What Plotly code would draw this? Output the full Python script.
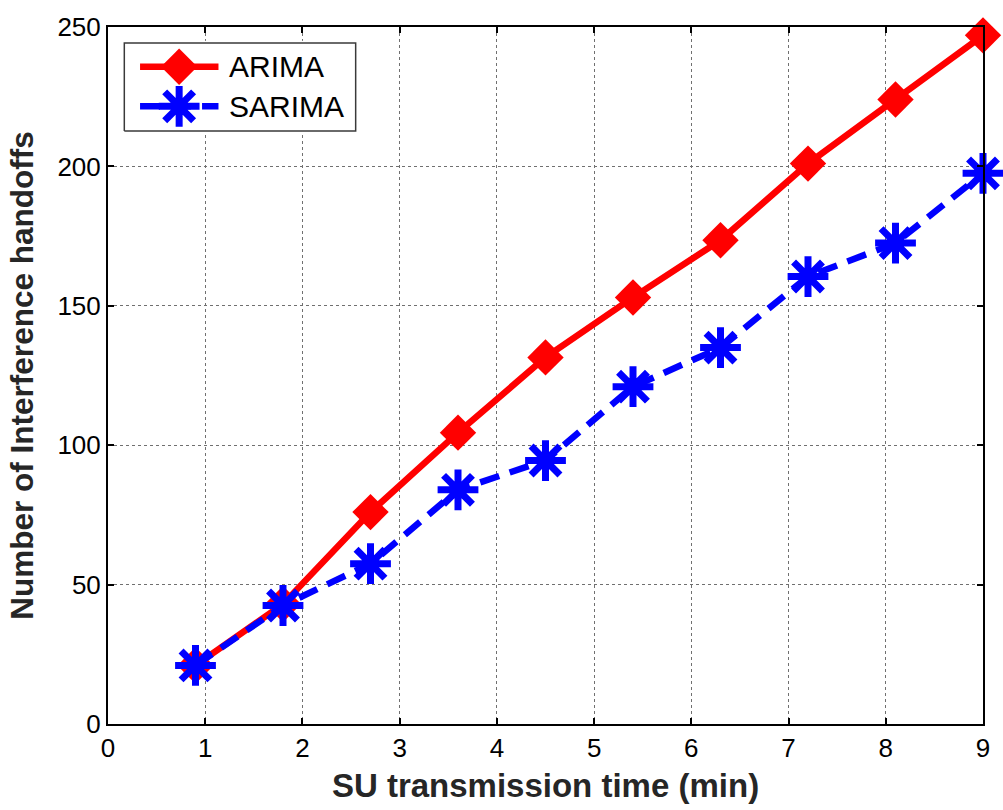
import plotly.graph_objects as go

# SU transmission time (min) and interference handoff counts
time_min = [0.9, 1.8, 2.7, 3.6, 4.5, 5.4, 6.3, 7.2, 8.1, 9.0]
arima = [21, 43, 76, 104.5, 131.5, 153, 173.5, 201, 224, 247]
sarima = [21, 42.5, 57.5, 84, 94.5, 121, 135, 160.5, 172.5, 197.5]

x_ticks = list(range(0, 10))
y_ticks = [0, 50, 100, 150, 200, 250]

series_names = ["ARIMA", "SARIMA"]
RED = "#ff0000"
BLUE = "#0000ff"
FONT = "Liberation Sans, Arial, sans-serif"

LINE_W = 6.5
DIAMOND = dict(symbol="diamond", size=28, color=RED, opacity=1,
               line=dict(width=0))
STAR = dict(symbol="asterisk-open", size=34, color=BLUE, opacity=1,
            line=dict(color=BLUE, width=7))
DASH = "20px,11px"

fig = go.Figure()

fig.add_trace(go.Scatter(
    x=time_min, y=arima, mode="lines+markers", name=series_names[0],
    line=dict(color=RED, width=LINE_W), marker=DIAMOND,
    cliponaxis=False, showlegend=False,
))
fig.add_trace(go.Scatter(
    x=time_min, y=sarima, mode="lines+markers", name=series_names[1],
    line=dict(color=BLUE, width=LINE_W, dash=DASH), marker=STAR,
    cliponaxis=False, showlegend=False,
))

# --- boxed legend in the upper-left corner (own small subplot) ---
box_dom_x = [0.016, 0.2857]
box_dom_y = [0.8478, 0.9801]
pad = 0.01
fig.add_trace(go.Scatter(
    x=[0, 1, 1, 0, 0], y=[0, 0, 1, 1, 0], xaxis="x2", yaxis="y2",
    mode="lines", fill="toself", fillcolor="white",
    line=dict(color="#3a3a3a", width=1.5), hoverinfo="skip", showlegend=False,
))
row_y = [0.73, 0.28]
sample_x = [0.068, 0.237, 0.407]
fig.add_trace(go.Scatter(
    x=sample_x, y=[row_y[0]] * 3, xaxis="x2", yaxis="y2",
    mode="lines+markers", line=dict(color=RED, width=LINE_W),
    marker={**DIAMOND, "size": [0, 28, 0]},
    hoverinfo="skip", showlegend=False,
))
fig.add_trace(go.Scatter(
    x=sample_x, y=[row_y[1]] * 3, xaxis="x2", yaxis="y2",
    mode="lines+markers", line=dict(color=BLUE, width=LINE_W, dash=DASH),
    marker={**STAR, "size": [0, 34, 0]},
    hoverinfo="skip", showlegend=False,
))
for name, yy in zip(series_names, row_y):
    fig.add_annotation(
        x=0.445, y=yy, xref="x2", yref="y2", text=name, showarrow=False,
        xanchor="left", yanchor="middle",
        font=dict(family=FONT, size=30, color="black"),
    )

axis_common = dict(
    showline=True, linecolor="black", linewidth=2, mirror="ticks",
    ticks="inside", ticklen=6, tickwidth=1.5, tickcolor="black",
    showgrid=True, gridcolor="#707070", gridwidth=1, griddash="dot",
    zeroline=False, tickfont=dict(family=FONT, size=26, color="black"),
)

fig.update_layout(
    width=1003, height=810,
    margin=dict(l=108, r=20, t=23, b=84),
    paper_bgcolor="white", plot_bgcolor="white",
    showlegend=False,
    xaxis=dict(
        range=[0, 9], tickvals=x_ticks, **axis_common,
        title=dict(text="<b>SU transmission time (min)</b>", standoff=12,
                   font=dict(family=FONT, size=33, color="#262626")),
    ),
    yaxis=dict(
        range=[0, 250], tickvals=y_ticks, **axis_common,
        title=dict(text="<b>Number of Interference handoffs</b>", standoff=14,
                   font=dict(family=FONT, size=31.5, color="#262626")),
    ),
    xaxis2=dict(domain=box_dom_x, range=[-pad, 1 + pad], anchor="y2",
                visible=False, fixedrange=True),
    yaxis2=dict(domain=box_dom_y, range=[-pad * 2.5, 1 + pad * 2.5], anchor="x2",
                visible=False, fixedrange=True),
)

fig.write_html("out.html")
